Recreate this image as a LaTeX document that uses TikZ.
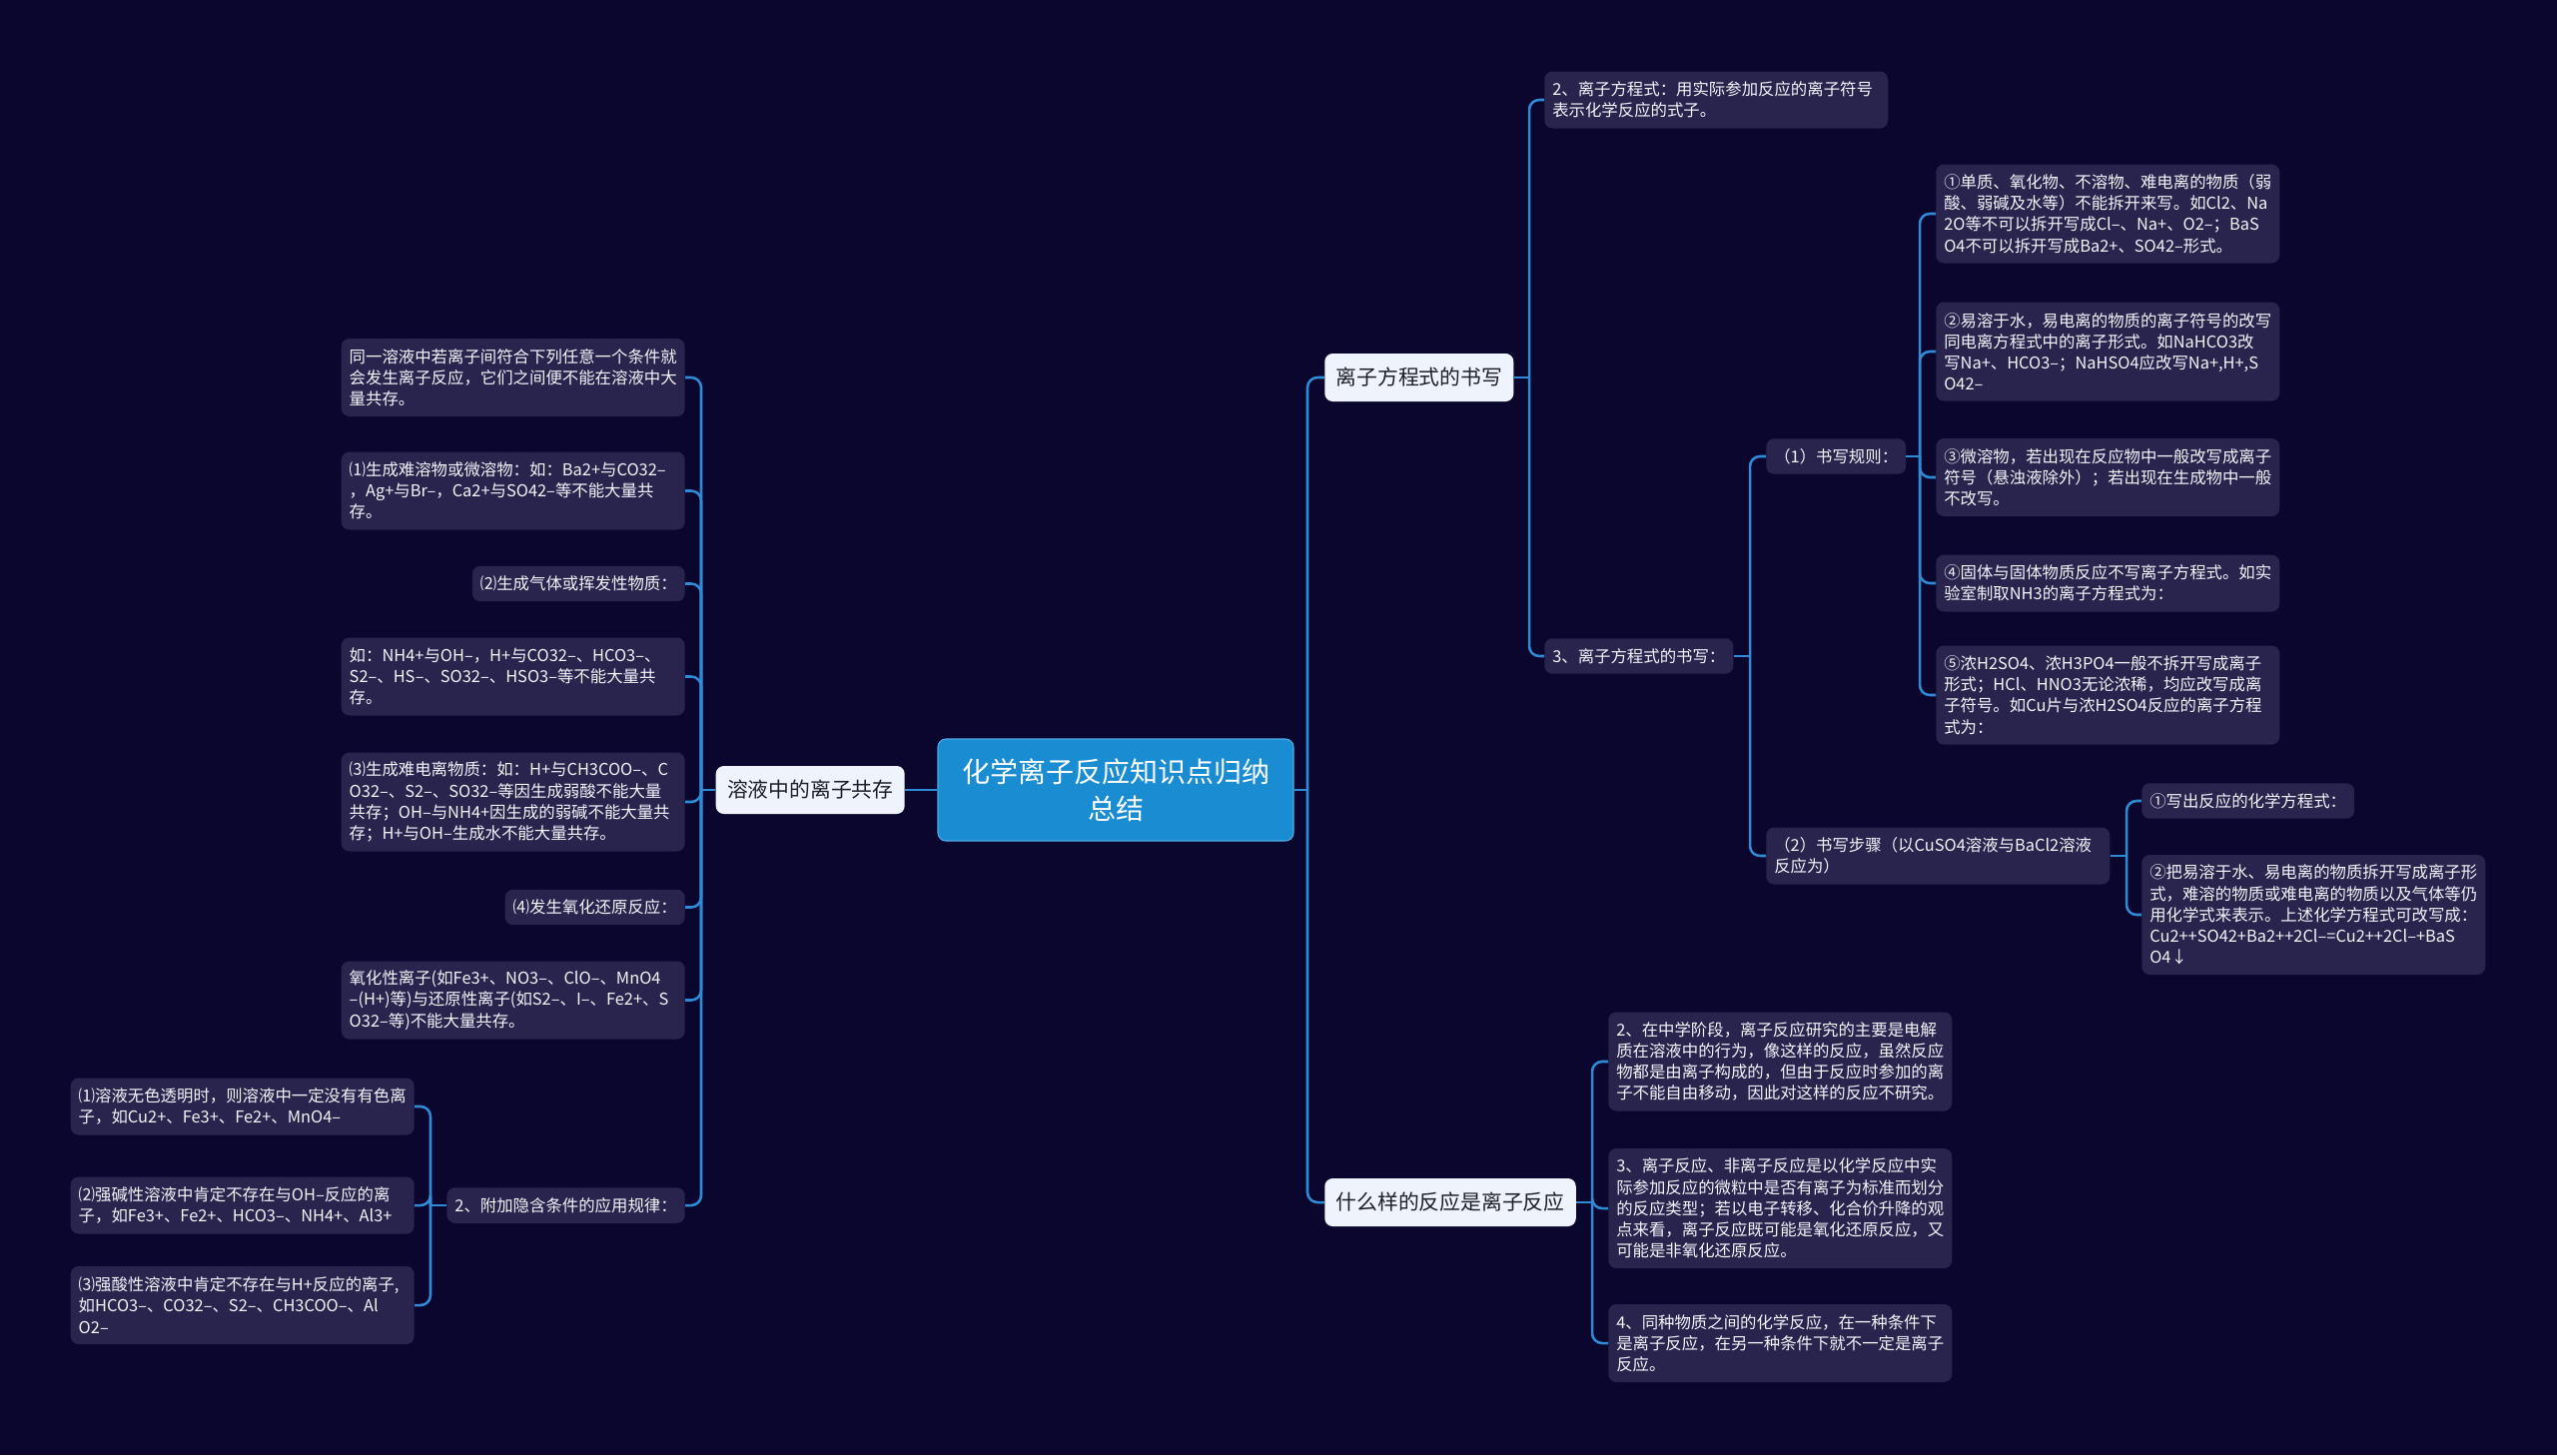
\documentclass[tikz,border=0pt]{standalone}
\usepackage{fontspec}
\setmainfont{Noto Sans CJK SC}
\definecolor{bg}{RGB}{11,6,46}
\definecolor{leaffill}{RGB}{40,36,78}
\definecolor{wirecol}{RGB}{47,139,214}
\definecolor{rootfill}{RGB}{26,141,210}
\definecolor{rootline}{RGB}{80,170,230}
\definecolor{topfill}{RGB}{238,243,252}
\definecolor{toptext}{RGB}{30,30,40}
\definecolor{leaftext}{RGB}{244,244,250}
\tikzset{
  leaf/.style={fill=leaffill, text=leaftext, rounded corners=6pt, inner xsep=6pt, inner ysep=2pt,
    font=\fontsize{12.3pt}{15.9pt}\selectfont, align=left},
  wide/.style={text width=246pt},
  n1/.style={minimum height=26.6pt},
  n2/.style={minimum height=42.75pt},
  n3/.style={minimum height=58.5pt},
  n4/.style={minimum height=74.25pt},
  n5/.style={minimum height=90pt},
  topic/.style={fill=topfill, text=toptext, rounded corners=6pt, inner xsep=8.5pt, inner ysep=2pt,
    minimum height=36pt, font=\fontsize{15.6pt}{20pt}\selectfont},
  rootn/.style={fill=rootfill, draw=rootline, line width=0.8pt, text=white, rounded corners=6pt,
    minimum width=267pt, minimum height=76.5pt, align=center, font=\fontsize{21pt}{28pt}\selectfont},
  wire/.style={draw=wirecol, line width=1.9pt, rounded corners=7.5pt},
}
\begin{document}
\begin{tikzpicture}[x=0.75pt,y=-0.75pt]
\fill[bg] (0,0) rectangle (2560,1457);
\useasboundingbox (0,0) rectangle (2560,1457);

% root and main topics
\node[rootn] (root) at (1117,791) {化学离子反应知识点归纳\\总结};
\node[topic, anchor=west] (A) at (1326,378) {离子方程式的书写};
\node[topic, anchor=west] (B) at (1326,1204) {什么样的反应是离子反应};
\node[topic, anchor=east] (C) at (906,791) {溶液中的离子共存};

% branch A
\node[leaf,wide,n2,anchor=west] (A1) at (1546,100) {2、离子方程式：用实际参加反应的离子符号\\表示化学反应的式子。};
\node[leaf,n1,anchor=west] (A2) at (1546,657) {3、离子方程式的书写：};
\node[leaf,n1,anchor=west] (A2a) at (1768,457) {（1）书写规则：};
\node[leaf,wide,n2,anchor=west] (A2b) at (1768,857) {（2）书写步骤（以CuSO4溶液与BaCl2溶液\\反应为）};
\node[leaf,wide,n4,anchor=west] (R1) at (1938,214) {①单质、氧化物、不溶物、难电离的物质（弱\\酸、弱碱及水等）不能拆开来写。如Cl2、Na\\2O等不可以拆开写成Cl–、Na+、O2–；BaS\\O4不可以拆开写成Ba2+、SO42–形式。};
\node[leaf,wide,n4,anchor=west] (R2) at (1938,352) {②易溶于水，易电离的物质的离子符号的改写\\同电离方程式中的离子形式。如NaHCO3改\\写Na+、HCO3–；NaHSO4应改写Na+,H+,S\\O42–};
\node[leaf,wide,n3,anchor=west] (R3) at (1938,478) {③微溶物，若出现在反应物中一般改写成离子\\符号（悬浊液除外）；若出现在生成物中一般\\不改写。};
\node[leaf,wide,n2,anchor=west] (R4) at (1938,584) {④固体与固体物质反应不写离子方程式。如实\\验室制取NH3的离子方程式为：};
\node[leaf,wide,n4,anchor=west] (R5) at (1938,696) {⑤浓H2SO4、浓H3PO4一般不拆开写成离子\\形式；HCl、HNO3无论浓稀，均应改写成离\\子符号。如Cu片与浓H2SO4反应的离子方程\\式为：};
\node[leaf,n1,anchor=west] (S1) at (2144,802) {①写出反应的化学方程式：};
\node[leaf,wide,n5,anchor=west] (S2) at (2144,916) {②把易溶于水、易电离的物质拆开写成离子形\\式，难溶的物质或难电离的物质以及气体等仍\\用化学式来表示。上述化学方程式可改写成：\\Cu2++SO42+Ba2++2Cl–=Cu2++2Cl–+BaS\\O4↓};

% branch B
\node[leaf,wide,n4,anchor=west] (B1) at (1610,1063) {2、在中学阶段，离子反应研究的主要是电解\\质在溶液中的行为，像这样的反应，虽然反应\\物都是由离子构成的，但由于反应时参加的离\\子不能自由移动，因此对这样的反应不研究。};
\node[leaf,wide,n5,anchor=west] (B2) at (1610,1210) {3、离子反应、非离子反应是以化学反应中实\\际参加反应的微粒中是否有离子为标准而划分\\的反应类型；若以电子转移、化合价升降的观\\点来看，离子反应既可能是氧化还原反应，又\\可能是非氧化还原反应。};
\node[leaf,wide,n3,anchor=west] (B3) at (1610,1345) {4、同种物质之间的化学反应，在一种条件下\\是离子反应，在另一种条件下就不一定是离子\\反应。};

% branch C
\node[leaf,wide,n3,anchor=east] (L1) at (686,378) {同一溶液中若离子间符合下列任意一个条件就\\会发生离子反应，它们之间便不能在溶液中大\\量共存。};
\node[leaf,wide,n3,anchor=east] (L2) at (686,491.5) {⑴生成难溶物或微溶物：如：Ba2+与CO32–\\，Ag+与Br–，Ca2+与SO42–等不能大量共\\存。};
\node[leaf,n1,anchor=east] (L3) at (686,584.5) {⑵生成气体或挥发性物质：};
\node[leaf,wide,n3,anchor=east] (L4) at (686,677.5) {如：NH4+与OH–，H+与CO32–、HCO3–、\\S2–、HS–、SO32–、HSO3–等不能大量共\\存。};
\node[leaf,wide,n4,anchor=east] (L5) at (686,803) {⑶生成难电离物质：如：H+与CH3COO–、C\\O32–、S2–、SO32–等因生成弱酸不能大量\\共存；OH–与NH4+因生成的弱碱不能大量共\\存；H+与OH–生成水不能大量共存。};
\node[leaf,n1,anchor=east] (L6) at (686,908.5) {⑷发生氧化还原反应：};
\node[leaf,wide,n3,anchor=east] (L7) at (686,1001.5) {氧化性离子(如Fe3+、NO3–、ClO–、MnO4\\–(H+)等)与还原性离子(如S2–、I–、Fe2+、S\\O32–等)不能大量共存。};
\node[leaf,n1,anchor=east] (L8) at (686,1207) {2、附加隐含条件的应用规律：};
\node[leaf,wide,n2,anchor=east] (M1) at (415,1108) {⑴溶液无色透明时，则溶液中一定没有有色离\\子，如Cu2+、Fe3+、Fe2+、MnO4–};
\node[leaf,wide,n2,anchor=east] (M2) at (415,1207) {⑵强碱性溶液中肯定不存在与OH–反应的离\\子，如Fe3+、Fe2+、HCO3–、NH4+、Al3+};
\node[leaf,wide,n3,anchor=east] (M3) at (415,1307) {⑶强酸性溶液中肯定不存在与H+反应的离子,\\如HCO3–、CO32–、S2–、CH3COO–、Al\\O2–};

% junctions
\coordinate (rj) at (root.east -| 1309,0);
\coordinate (aj) at (A.east -| 1531,0);
\coordinate (a2j) at (A2.east -| 1752,0);
\coordinate (a2aj) at (A2a.east -| 1922,0);
\coordinate (a2bj) at (A2b.east -| 2129,0);
\coordinate (bj) at (B.east -| 1594,0);
\coordinate (cj) at (C.west -| 702,0);
\coordinate (l8j) at (L8.west -| 431,0);

% connectors
\draw[wire] (root.east) -- (rj);
\draw[wire] (rj) |- (A.west);
\draw[wire] (rj) |- (B.west);
\draw[wire] (root.west) -- (C.east);

\draw[wire] (A.east) -- (aj);
\foreach \c in {A1,A2} \draw[wire] (aj) |- (\c.west);
\draw[wire] (A2.east) -- (a2j);
\foreach \c in {A2a,A2b} \draw[wire] (a2j) |- (\c.west);
\draw[wire] (A2a.east) -- (a2aj);
\foreach \c in {R1,R2,R3,R4,R5} \draw[wire] (a2aj) |- (\c.west);
\draw[wire] (A2b.east) -- (a2bj);
\foreach \c in {S1,S2} \draw[wire] (a2bj) |- (\c.west);

\draw[wire] (B.east) -- (bj);
\foreach \c in {B1,B2,B3} \draw[wire] (bj) |- (\c.west);

\draw[wire] (C.west) -- (cj);
\foreach \c in {L1,L2,L3,L4,L5,L6,L7,L8} \draw[wire] (cj) |- (\c.east);
\draw[wire] (L8.west) -- (l8j);
\foreach \c in {M1,M2,M3} \draw[wire] (l8j) |- (\c.east);
\end{tikzpicture}
\end{document}
